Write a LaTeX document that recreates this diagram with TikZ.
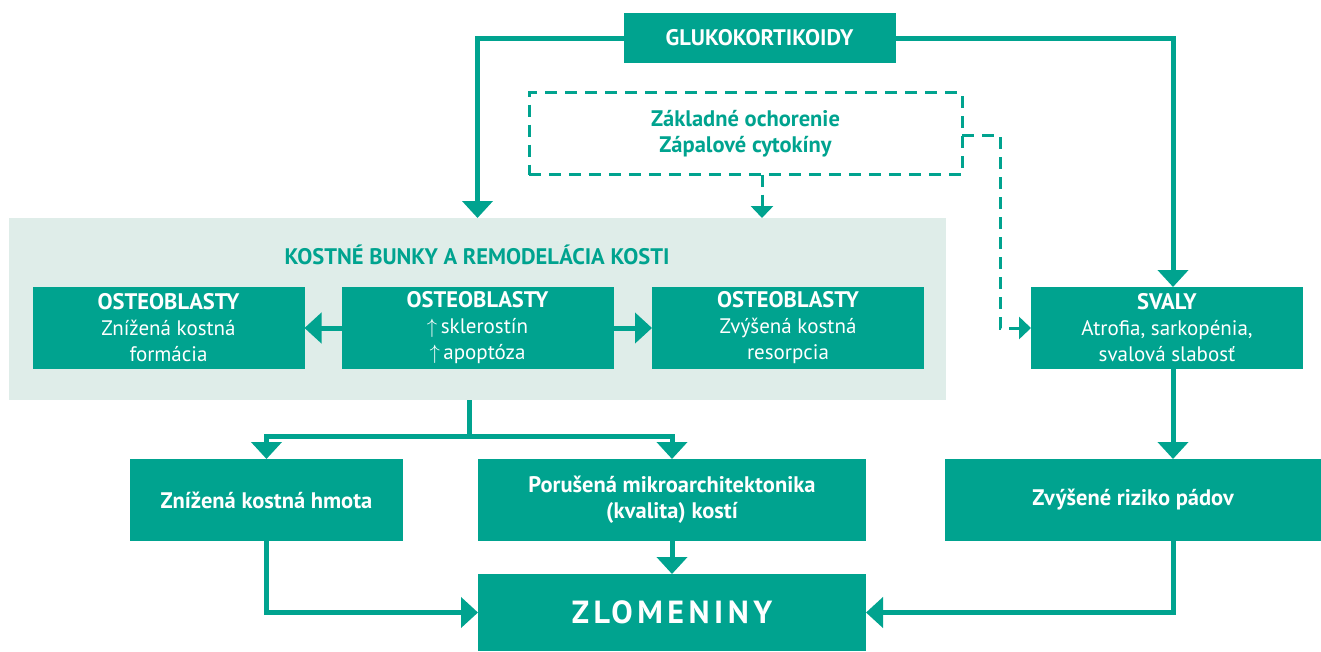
\documentclass[tikz,border=0pt]{standalone}
\usepackage{fontspec}
\setmainfont{PT Sans}
\usetikzlibrary{arrows.meta}
\definecolor{tealc}{HTML}{00A38F}
\definecolor{bgc}{HTML}{DFEDE9}
\newcommand\bigbf{\bfseries\fontsize{22.5}{26}\selectfont}
\begin{document}
\begin{tikzpicture}[x=1pt,y=-1pt,
  box/.style={fill=tealc, text=white, minimum width=272pt, minimum height=82pt,
    inner sep=0pt, outer sep=0pt, align=center, font=\fontsize{21}{26}\selectfont},
  conn/.style={draw=tealc, line width=5pt, -{Triangle[width=30pt,length=17pt]}},
  plain/.style={draw=tealc, line width=5pt},
  dconn/.style={draw=tealc, line width=3pt, dash pattern=on 12pt off 8pt,
    -{Triangle[width=22pt,length=12pt]}},
]
\useasboundingbox (0,0) rectangle (1321,651);
% background panel
\node[fill=bgc, minimum width=937pt, minimum height=182pt, inner sep=0pt, outer sep=0pt] (bg) at (477.5,309) {};
\node[text=tealc, font=\bigbf] (title) at (477,255) {KOSTNÉ BUNKY A REMODELÁCIA KOSTI};
% nodes
\node[box, minimum width=272pt, minimum height=50pt, font=\bigbf] (gluko) at (759.5,38) {GLUKOKORTIKOIDY};
\node[draw=tealc, line width=3pt, dash pattern=on 12pt off 8pt, minimum width=433pt, minimum height=82pt,
  inner sep=0pt, outer sep=0pt, text=tealc, align=center, font=\bigbf] (dbox) at (745.5,133.5)
  {Základné ochorenie\\Zápalové cytokíny};
\node[box] (b1) at (168.5,328) {{\bigbf OSTEOBLASTY}\\Znížená kostná\\formácia};
\node[box] (b2) at (477.5,328) {{\bigbf OSTEOBLASTY}\\$\uparrow$\,sklerostín\\$\uparrow$\,apoptóza};
\node[box] (b3) at (788,328) {{\bigbf OSTEOBLASTY}\\Zvýšená kostná\\resorpcia};
\node[box] (svaly) at (1167,328) {{\bigbf SVALY}\\Atrofia, sarkopénia,\\svalová slabosť};
\node[box, minimum width=273pt, font=\bigbf] (znizena) at (266.5,500) {Znížená kostná hmota};
\node[box, minimum width=388pt, font=\bigbf] (porusena) at (672,500) {Porušená mikroarchitektonika\\(kvalita) kostí};
\node[box, minimum width=376pt, font=\bigbf] (zvysene) at (1133,500) {Zvýšené riziko pádov};
\node[box, minimum width=388pt, minimum height=77pt, font=\bfseries\fontsize{32}{34}\selectfont\addfontfeature{LetterSpace=14}] (zlom) at (672,612.5) {ZLOMENINY};
% helper coordinates
\coordinate (gx) at (1173,0);
\coordinate (dx) at (762,0);
\coordinate (dy) at (1000,135);
\coordinate (br) at (469,436);
% connectors
\draw[conn] (gluko.west) -| (bg.north);
\draw[conn] (gluko.east) -| (svaly.north -| gx);
\draw[dconn] (dbox.south -| dx) -- (bg.north -| dx);
\draw[dconn] (dbox.east |- dy) -- (dy) |- (svaly.west);
\draw[conn] (b2.west) -- (b1.east);
\draw[conn] (b2.east) -- (b3.west);
\draw[plain] (bg.south -| br) -- (br);
\draw[conn] (br) -| (znizena.north);
\draw[conn] (br) -| (porusena.north);
\draw[conn] (svaly.south -| gx) -- (zvysene.north -| gx);
\draw[conn] (porusena.south) -- (zlom.north);
\draw[conn] (znizena.south) |- (zlom.west);
\draw[conn] (zvysene.south -| gx) |- (zlom.east);
\end{tikzpicture}
\end{document}
